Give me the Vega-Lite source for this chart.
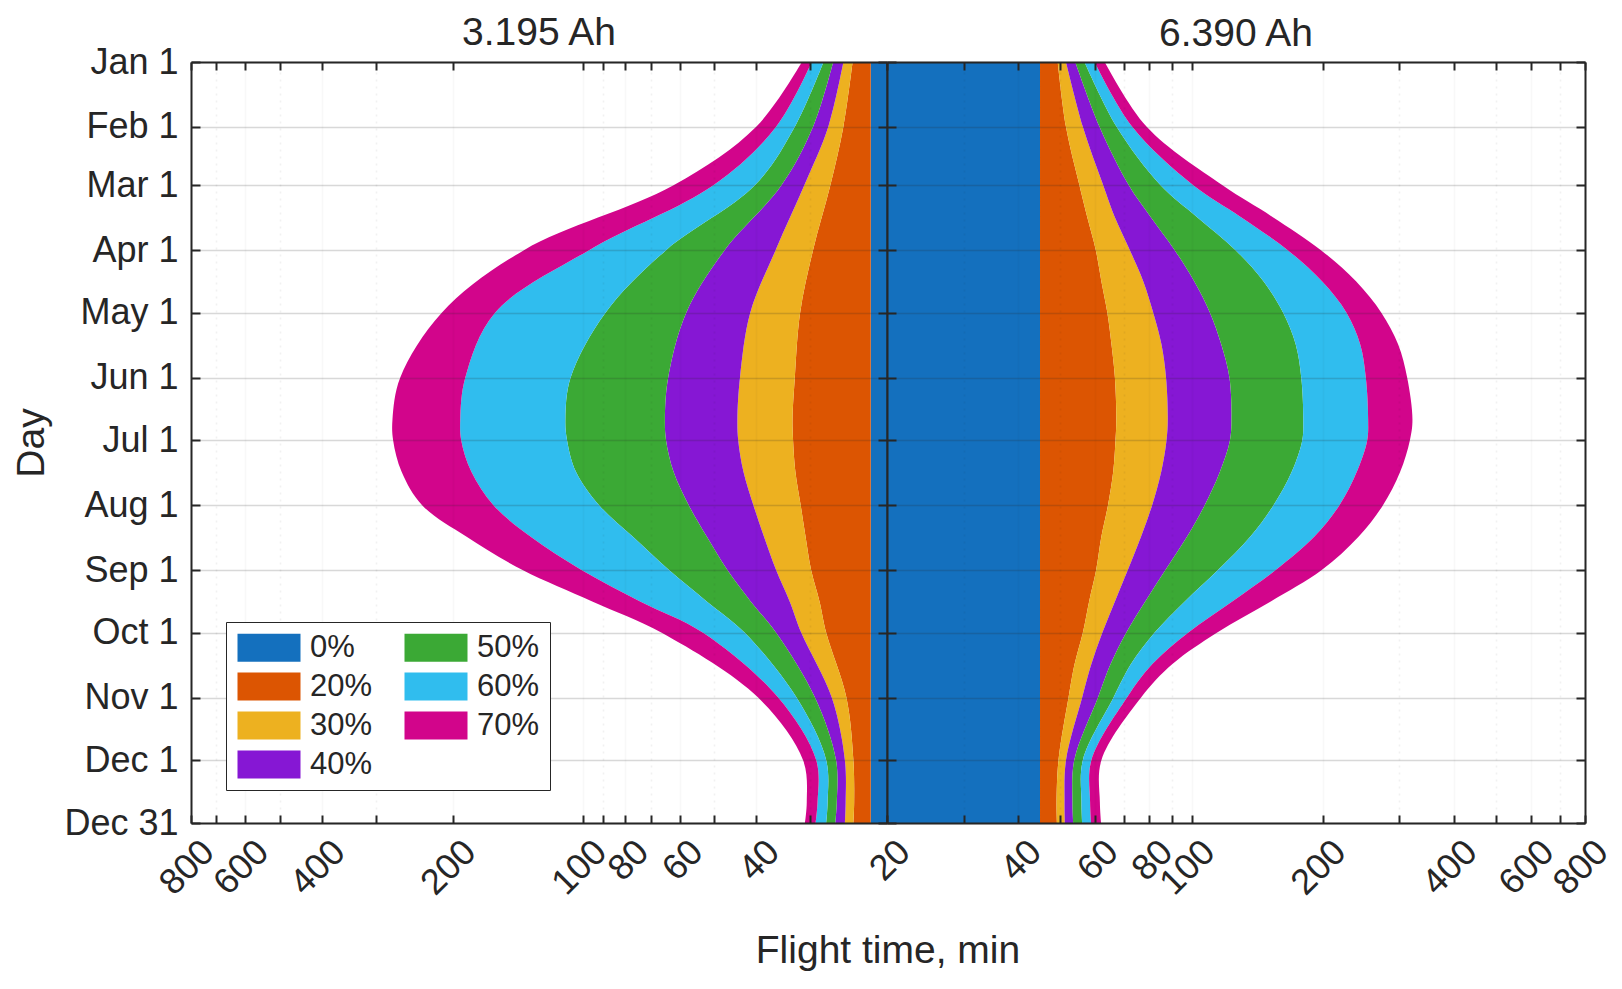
{
  "$schema": "https://vega.github.io/schema/vega-lite/v6.json",
  "background": "white",
  "padding": {"left": 12, "top": 14, "right": 5, "bottom": 5},
  "bounds": "flush",
  "datasets": {
    "left": [
      {"day": 1, "t0": 21.8, "t20": 24.0, "t30": 25.2, "t40": 26.6, "t50": 28.0, "t60": 29.8, "t70": 31.4},
      {"day": 32, "t0": 21.8, "t20": 25.2, "t30": 27.3, "t40": 29.6, "t50": 32.6, "t60": 36.0, "t70": 40.0},
      {"day": 60, "t0": 21.8, "t20": 27.0, "t30": 31.0, "t40": 35.0, "t50": 40.3, "t60": 50.2, "t70": 62.0},
      {"day": 91, "t0": 21.8, "t20": 29.6, "t30": 36.1, "t40": 47.3, "t50": 64.5, "t60": 97, "t70": 137},
      {"day": 121, "t0": 21.8, "t20": 31.7, "t30": 41.3, "t40": 58.0, "t50": 89.0, "t60": 159.8, "t70": 212},
      {"day": 152, "t0": 21.8, "t20": 32.6, "t30": 43.6, "t40": 63.8, "t50": 107, "t60": 187, "t70": 264},
      {"day": 172, "t0": 21.8, "t20": 33.0, "t30": 44.2, "t40": 64.9, "t50": 110, "t60": 192, "t70": 275},
      {"day": 182, "t0": 21.8, "t20": 32.9, "t30": 44.0, "t40": 64.5, "t50": 109, "t60": 191, "t70": 274},
      {"day": 197, "t0": 21.8, "t20": 32.5, "t30": 42.8, "t40": 62.0, "t50": 104, "t60": 181, "t70": 262},
      {"day": 213, "t0": 21.8, "t20": 31.6, "t30": 40.6, "t40": 57.2, "t50": 92, "t60": 161, "t70": 235},
      {"day": 228, "t0": 21.8, "t20": 30.8, "t30": 38.4, "t40": 52.0, "t50": 77, "t60": 132.4, "t70": 186},
      {"day": 244, "t0": 21.8, "t20": 29.9, "t30": 36.0, "t40": 46.6, "t50": 63.5, "t60": 101, "t70": 138},
      {"day": 259, "t0": 21.8, "t20": 28.6, "t30": 33.5, "t40": 41.2, "t50": 52, "t60": 74, "t70": 95.4},
      {"day": 274, "t0": 21.8, "t20": 27.6, "t30": 31.5, "t40": 36.0, "t50": 42.5, "t60": 53, "t70": 66},
      {"day": 305, "t0": 21.8, "t20": 24.8, "t30": 26.8, "t40": 29.3, "t50": 32.3, "t60": 35.6, "t70": 39.6},
      {"day": 335, "t0": 21.8, "t20": 23.9, "t30": 25.0, "t40": 26.2, "t50": 27.6, "t60": 29.1, "t70": 31.2},
      {"day": 355, "t0": 21.8, "t20": 23.8, "t30": 24.9, "t40": 26.1, "t50": 27.4, "t60": 28.9, "t70": 30.6},
      {"day": 365, "t0": 21.8, "t20": 23.9, "t30": 25.0, "t40": 26.3, "t50": 27.6, "t60": 29.2, "t70": 30.9}
    ],
    "right": [
      {"day": 1, "t0": 44.9, "t20": 49.3, "t30": 51.5, "t40": 54.1, "t50": 56.8, "t60": 59.9, "t70": 63.2},
      {"day": 32, "t0": 44.9, "t20": 51.5, "t30": 56.3, "t40": 61.5, "t50": 67.3, "t60": 73.1, "t70": 78.9},
      {"day": 60, "t0": 44.9, "t20": 55.3, "t30": 62.7, "t40": 71.8, "t50": 84.9, "t60": 100.9, "t70": 117.8},
      {"day": 75, "t0": 44.9, "t20": 57.6, "t30": 66.6, "t40": 80.5, "t50": 102.7, "t60": 129.4, "t70": 153.1},
      {"day": 91, "t0": 44.9, "t20": 60.3, "t30": 72.2, "t40": 91.5, "t50": 126.2, "t60": 166.3, "t70": 198.2},
      {"day": 106, "t0": 44.9, "t20": 62.1, "t30": 77.5, "t40": 101.5, "t50": 146.4, "t60": 199.5, "t70": 238.8},
      {"day": 121, "t0": 44.9, "t20": 64.1, "t30": 81.7, "t40": 110.3, "t50": 162.4, "t60": 227, "t70": 272.9},
      {"day": 136, "t0": 44.9, "t20": 65.5, "t30": 85.3, "t40": 117.0, "t50": 173.4, "t60": 243.8, "t70": 297.9},
      {"day": 152, "t0": 44.9, "t20": 66.7, "t30": 87.4, "t40": 122.2, "t50": 178.6, "t60": 251.2, "t70": 312.6},
      {"day": 172, "t0": 44.9, "t20": 67.2, "t30": 88.2, "t40": 123.5, "t50": 180.5, "t60": 254.3, "t70": 321.4},
      {"day": 182, "t0": 44.9, "t20": 66.9, "t30": 87.6, "t40": 122.5, "t50": 179.5, "t60": 253, "t70": 317},
      {"day": 197, "t0": 44.9, "t20": 66.1, "t30": 85.2, "t40": 116.2, "t50": 169.8, "t60": 239.5, "t70": 301.2},
      {"day": 213, "t0": 44.9, "t20": 64.3, "t30": 81.2, "t40": 107.2, "t50": 154.2, "t60": 218.5, "t70": 275},
      {"day": 228, "t0": 44.9, "t20": 62.1, "t30": 76.6, "t40": 97.7, "t50": 136.5, "t60": 191.5, "t70": 242},
      {"day": 244, "t0": 44.9, "t20": 60.4, "t30": 71.4, "t40": 87.1, "t50": 115.0, "t60": 156, "t70": 199},
      {"day": 259, "t0": 44.9, "t20": 58.2, "t30": 66.7, "t40": 78.3, "t50": 96.5, "t60": 124, "t70": 152},
      {"day": 274, "t0": 44.9, "t20": 56.3, "t30": 62.4, "t40": 70.8, "t50": 82.2, "t60": 98.2, "t70": 114.3},
      {"day": 289, "t0": 44.9, "t20": 53.9, "t30": 58.9, "t40": 65.2, "t50": 72.6, "t60": 81.3, "t70": 90.4},
      {"day": 305, "t0": 44.9, "t20": 52.2, "t30": 56.1, "t40": 61.0, "t50": 66.2, "t60": 71.1, "t70": 76.6},
      {"day": 335, "t0": 44.9, "t20": 49.5, "t30": 51.5, "t40": 53.8, "t50": 56.3, "t60": 58.9, "t70": 62.1},
      {"day": 355, "t0": 44.9, "t20": 49.0, "t30": 51.1, "t40": 53.3, "t50": 55.9, "t60": 58.5, "t70": 61.6},
      {"day": 365, "t0": 44.9, "t20": 49.1, "t30": 51.2, "t40": 53.5, "t50": 56.1, "t60": 58.8, "t70": 62.0}
    ]
  },
  "spacing": 0,
  "title": {"text": "Flight time, min", "orient": "bottom", "anchor": "middle", "frame": "group", "dx": 697, "fontSize": 39, "fontWeight": "normal", "color": "#262626", "offset": 31},
  "hconcat": [
    {
      "width": 696,
      "height": 761,
      "title": {"text": "3.195 Ah", "fontSize": 39, "fontWeight": "normal", "color": "#262626", "anchor": "middle", "offset": 7, "dy": 16},
      "data": {"name": "left"},
      "resolve": {"axis": {"x": "independent", "y": "independent"}},
      "layer": [
        {
          "mark": {"type": "area", "orient": "horizontal", "interpolate": "catmull-rom"},
          "encoding": {
            "y": {"field": "day", "type": "quantitative",
              "scale": {"domain": [1, 365], "reverse": true, "nice": false, "zero": false},
              "axis": {"orient": "left", "zindex": 1, "values": [1, 32, 60, 91, 121, 152, 182, 213, 244, 274, 305, 335, 365],
                "labelExpr": "['Jan 1','Feb 1','Mar 1','Apr 1','May 1','Jun 1','Jul 1','Aug 1','Sep 1','Oct 1','Nov 1','Dec 1','Dec 31'][indexof([1,32,60,91,121,152,182,213,244,274,305,335,365], datum.value)]",
                "tickSize": -9, "labelPadding": 22, "grid": true, "title": "Day", "titlePadding": 12}},
            "x": {"field": "t0", "type": "quantitative", "stack": null,
              "scale": {"type": "log", "domain": [20, 800], "reverse": true, "nice": false},
              "axis": {"orient": "bottom", "zindex": 1, "values": [20, 30, 40, 50, 60, 70, 80, 90, 100, 200, 300, 400, 500, 600, 700, 800],
                "labelExpr": "indexof([40,60,80,100,200,400,600,800], datum.value) >= 0 ? format(datum.value, 'd') : ''",
                "labelAngle": -45, "labelAlign": "right", "labelBaseline": "middle", "labelOverlap": false, "labelFlush": false, "labelBound": false,
                "labelPadding": 31, "labelOffset": 17, "tickSize": -8, "grid": true,
                "gridDash": {"condition": {"test": "indexof([30,50,70,90,300,500,700], datum.value) >= 0", "value": [2, 5]}, "value": []},
                "gridOpacity": {"condition": {"test": "indexof([30,50,70,90,300,500,700], datum.value) >= 0", "value": 0.35}, "value": 0.18},
                "title": null}},
            "x2": {"datum": 20},
            "color": {"datum": "0%", "type": "nominal",
              "scale": {"domain": ["0%", "20%", "30%", "40%", "50%", "60%", "70%"],
                "range": ["#1470BE", "#DC5502", "#EDB120", "#8617D4", "#3BA935", "#30BDEE", "#D2058B"]},
              "legend": {"orient": "none", "legendX": 35, "legendY": 560, "columns": 2, "title": null,
                "symbolType": "M-1,-1H3.5V1H-1Z", "symbolSize": 784, "symbolStrokeWidth": 0, "symbolOpacity": 1,
                "labelFontSize": 31, "labelColor": "#262626", "labelOffset": 43, "rowPadding": 7, "columnPadding": 30,
                "padding": 10, "strokeColor": "#262626", "fillColor": "white", "labelLimit": 200}}
          }
        },
        {
          "mark": {"type": "area", "orient": "horizontal", "interpolate": "catmull-rom"},
          "encoding": {
            "y": {"field": "day", "type": "quantitative",
              "axis": {"orient": "right", "zindex": 1, "values": [1, 32, 60, 91, 121, 152, 182, 213, 244, 274, 305, 335, 365], "labels": false, "tickSize": -9, "grid": false, "title": null}},
            "x": {"field": "t20", "type": "quantitative", "stack": null,
              "axis": {"orient": "top", "zindex": 1, "values": [20, 30, 40, 50, 60, 70, 80, 90, 100, 200, 300, 400, 500, 600, 700, 800], "labels": false, "tickSize": -8, "grid": false, "title": null}},
            "x2": {"field": "t0"},
            "color": {"datum": "20%", "type": "nominal"}
          }
        },
        {
          "mark": {"type": "area", "orient": "horizontal", "interpolate": "catmull-rom"},
          "encoding": {
            "y": {"field": "day", "type": "quantitative", "axis": null},
            "x": {"field": "t30", "type": "quantitative", "stack": null, "axis": null},
            "x2": {"field": "t20"},
            "color": {"datum": "30%", "type": "nominal"}
          }
        },
        {
          "mark": {"type": "area", "orient": "horizontal", "interpolate": "catmull-rom"},
          "encoding": {
            "y": {"field": "day", "type": "quantitative", "axis": null},
            "x": {"field": "t40", "type": "quantitative", "stack": null, "axis": null},
            "x2": {"field": "t30"},
            "color": {"datum": "40%", "type": "nominal"}
          }
        },
        {
          "mark": {"type": "area", "orient": "horizontal", "interpolate": "catmull-rom"},
          "encoding": {
            "y": {"field": "day", "type": "quantitative", "axis": null},
            "x": {"field": "t50", "type": "quantitative", "stack": null, "axis": null},
            "x2": {"field": "t40"},
            "color": {"datum": "50%", "type": "nominal"}
          }
        },
        {
          "mark": {"type": "area", "orient": "horizontal", "interpolate": "catmull-rom"},
          "encoding": {
            "y": {"field": "day", "type": "quantitative", "axis": null},
            "x": {"field": "t60", "type": "quantitative", "stack": null, "axis": null},
            "x2": {"field": "t50"},
            "color": {"datum": "60%", "type": "nominal"}
          }
        },
        {
          "mark": {"type": "area", "orient": "horizontal", "interpolate": "catmull-rom"},
          "encoding": {
            "y": {"field": "day", "type": "quantitative", "axis": null},
            "x": {"field": "t70", "type": "quantitative", "stack": null, "axis": null},
            "x2": {"field": "t60"},
            "color": {"datum": "70%", "type": "nominal"}
          }
        }
      ]
    },
    {
      "width": 698,
      "height": 761,
      "title": {"text": "6.390 Ah", "fontSize": 39, "fontWeight": "normal", "color": "#262626", "anchor": "middle", "offset": 7},
      "data": {"name": "right"},
      "resolve": {"axis": {"x": "independent", "y": "independent"}},
      "layer": [
        {
          "mark": {"type": "area", "orient": "horizontal", "interpolate": "catmull-rom"},
          "encoding": {
            "y": {"field": "day", "type": "quantitative",
              "scale": {"domain": [1, 365], "reverse": true, "nice": false, "zero": false},
              "axis": {"orient": "left", "zindex": 1, "values": [1, 32, 60, 91, 121, 152, 182, 213, 244, 274, 305, 335, 365], "labels": false, "tickSize": -9, "grid": true, "title": null}},
            "x": {"field": "t0", "type": "quantitative", "stack": null,
              "scale": {"type": "log", "domain": [20, 800], "nice": false},
              "axis": {"orient": "bottom", "zindex": 1, "values": [20, 30, 40, 50, 60, 70, 80, 90, 100, 200, 300, 400, 500, 600, 700, 800],
                "labelExpr": "indexof([20,40,60,80,100,200,400,600,800], datum.value) >= 0 ? format(datum.value, 'd') : ''",
                "labelAngle": -45, "labelAlign": "right", "labelBaseline": "middle", "labelOverlap": false, "labelFlush": false, "labelBound": false,
                "labelPadding": 31, "labelOffset": 17, "tickSize": -8, "grid": true,
                "gridDash": {"condition": {"test": "indexof([30,50,70,90,300,500,700], datum.value) >= 0", "value": [2, 5]}, "value": []},
                "gridOpacity": {"condition": {"test": "indexof([30,50,70,90,300,500,700], datum.value) >= 0", "value": 0.35}, "value": 0.18},
                "title": null}},
            "x2": {"datum": 20},
            "color": {"datum": "0%", "type": "nominal"}
          }
        },
        {
          "mark": {"type": "area", "orient": "horizontal", "interpolate": "catmull-rom"},
          "encoding": {
            "y": {"field": "day", "type": "quantitative",
              "axis": {"orient": "right", "zindex": 1, "values": [1, 32, 60, 91, 121, 152, 182, 213, 244, 274, 305, 335, 365], "labels": false, "tickSize": -9, "grid": false, "title": null}},
            "x": {"field": "t20", "type": "quantitative", "stack": null,
              "axis": {"orient": "top", "zindex": 1, "values": [20, 30, 40, 50, 60, 70, 80, 90, 100, 200, 300, 400, 500, 600, 700, 800], "labels": false, "tickSize": -8, "grid": false, "title": null}},
            "x2": {"field": "t0"},
            "color": {"datum": "20%", "type": "nominal"}
          }
        },
        {
          "mark": {"type": "area", "orient": "horizontal", "interpolate": "catmull-rom"},
          "encoding": {
            "y": {"field": "day", "type": "quantitative", "axis": null},
            "x": {"field": "t30", "type": "quantitative", "stack": null, "axis": null},
            "x2": {"field": "t20"},
            "color": {"datum": "30%", "type": "nominal"}
          }
        },
        {
          "mark": {"type": "area", "orient": "horizontal", "interpolate": "catmull-rom"},
          "encoding": {
            "y": {"field": "day", "type": "quantitative", "axis": null},
            "x": {"field": "t40", "type": "quantitative", "stack": null, "axis": null},
            "x2": {"field": "t30"},
            "color": {"datum": "40%", "type": "nominal"}
          }
        },
        {
          "mark": {"type": "area", "orient": "horizontal", "interpolate": "catmull-rom"},
          "encoding": {
            "y": {"field": "day", "type": "quantitative", "axis": null},
            "x": {"field": "t50", "type": "quantitative", "stack": null, "axis": null},
            "x2": {"field": "t40"},
            "color": {"datum": "50%", "type": "nominal"}
          }
        },
        {
          "mark": {"type": "area", "orient": "horizontal", "interpolate": "catmull-rom"},
          "encoding": {
            "y": {"field": "day", "type": "quantitative", "axis": null},
            "x": {"field": "t60", "type": "quantitative", "stack": null, "axis": null},
            "x2": {"field": "t50"},
            "color": {"datum": "60%", "type": "nominal"}
          }
        },
        {
          "mark": {"type": "area", "orient": "horizontal", "interpolate": "catmull-rom"},
          "encoding": {
            "y": {"field": "day", "type": "quantitative", "axis": null},
            "x": {"field": "t70", "type": "quantitative", "stack": null, "axis": null},
            "x2": {"field": "t60"},
            "color": {"datum": "70%", "type": "nominal"}
          }
        }
      ]
    }
  ],
  "resolve": {"scale": {"color": "shared"}},
  "config": {
    "font": "Liberation Sans",
    "view": {"stroke": null},
    "axis": {
      "domainColor": "#262626", "domainWidth": 2, "tickColor": "#262626", "tickWidth": 2,
      "labelColor": "#262626", "labelFontSize": 36, "labelFont": "Liberation Sans",
      "titleFont": "Liberation Sans", "titleFontSize": 39, "titleFontWeight": "normal", "titleColor": "#262626",
      "gridColor": "#262626", "gridOpacity": 0.18, "gridWidth": 1.5, "zindex": 1
    }
  }
}
